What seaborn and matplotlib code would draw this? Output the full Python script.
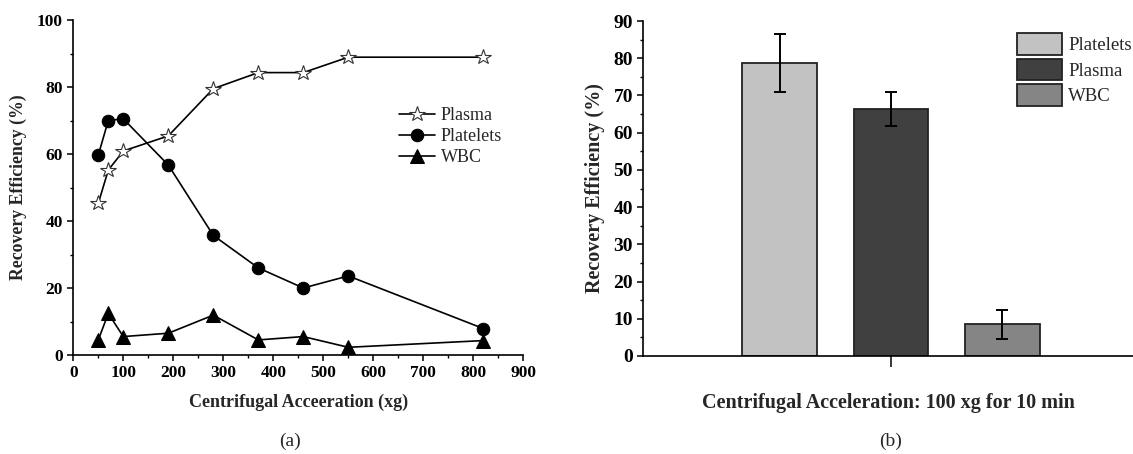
import numpy as np
import pandas as pd
import matplotlib
matplotlib.use("Agg")
import matplotlib.pyplot as plt
from matplotlib.ticker import MultipleLocator
import seaborn as sns

# ---------------- data ----------------
accel = [50, 70, 100, 190, 280, 370, 460, 550, 820]
plasma = [45.3, 55.2, 60.9, 65.4, 79.5, 84.3, 84.3, 88.9, 88.9]
platelets = [59.7, 70.0, 70.5, 56.7, 35.7, 26.0, 20.0, 23.6, 7.9]
wbc = [4.5, 12.4, 5.5, 6.5, 11.9, 4.5, 5.5, 2.3, 4.3]

bar_cells = ["Platelets", "Plasma", "WBC"]
bar_values = [78.8, 66.4, 8.5]
bar_errors = [7.8, 4.5, 3.8]
bar_colors = ["#c2c2c2", "#404040", "#858585"]
condition = ["100 xg"]

# ---------------- style ----------------
sns.set_style("ticks")
plt.rcParams["font.family"] = ["Liberation Serif", "DejaVu Serif"]
plt.rcParams["axes.linewidth"] = 1.2
plt.rcParams["xtick.major.width"] = 1.1
plt.rcParams["ytick.major.width"] = 1.1
plt.rcParams["xtick.minor.width"] = 1.0
plt.rcParams["ytick.minor.width"] = 1.0
plt.rcParams["xtick.color"] = "black"
plt.rcParams["ytick.color"] = "black"
plt.rcParams["axes.edgecolor"] = "black"

W, H = 1133, 454
fig = plt.figure(figsize=(W / 100, H / 100), dpi=100)

# ---------------- panel (a) ----------------
axa = fig.add_axes([73.3 / W, 1 - 355 / H, (523.3 - 73.3) / W, (355 - 20) / H])
df_a = pd.DataFrame({"x": accel, "Plasma": plasma, "Platelets": platelets, "WBC": wbc})

sns.lineplot(data=df_a, x="x", y="Plasma", ax=axa, color="black", lw=1.2,
             marker="*", markersize=11.5, markerfacecolor="white",
             markeredgecolor="#333333", markeredgewidth=0.8, label="Plasma")
sns.lineplot(data=df_a, x="x", y="Platelets", ax=axa, color="black", lw=1.2,
             marker="o", markersize=9, markerfacecolor="black",
             markeredgecolor="black", label="Platelets")
sns.lineplot(data=df_a, x="x", y="WBC", ax=axa, color="black", lw=1.2,
             marker="^", markersize=9.5, markerfacecolor="black",
             markeredgecolor="black", label="WBC")

axa.set_xlim(0, 900)
axa.set_ylim(0, 100)
axa.xaxis.set_major_locator(MultipleLocator(100))
axa.xaxis.set_minor_locator(MultipleLocator(50))
axa.yaxis.set_major_locator(MultipleLocator(20))
axa.yaxis.set_minor_locator(MultipleLocator(10))
axa.tick_params(which="major", length=4.5, labelsize=12.5, pad=3)
axa.tick_params(which="minor", length=2.5)
for lab in axa.get_xticklabels() + axa.get_yticklabels():
    lab.set_fontweight("bold")
axa.set_xlabel("Centrifugal Acceeration (xg)", fontsize=13, fontweight="bold", labelpad=9)
axa.set_ylabel("Recovery Efficiency (%)", fontsize=12.8, fontweight="bold", labelpad=7)
sns.despine(ax=axa)
axa.legend(loc="upper left", bbox_to_anchor=(390 / W, 1 - 98 / H),
           bbox_transform=fig.transFigure, frameon=False, fontsize=13,
           handlelength=2.0, borderpad=0, labelspacing=0.22, handletextpad=0.3)

# ---------------- panel (b) ----------------
axb = fig.add_axes([643.3 / W, 1 - 356 / H, (W - 643.3) / W, (356 - 21) / H])
df_b = pd.DataFrame({"cond": condition * len(bar_cells), "cell": bar_cells, "val": bar_values})
sns.barplot(data=df_b, x="cond", y="val", hue="cell", hue_order=bar_cells,
            palette=dict(zip(bar_cells, bar_colors)), gap=0.33,
            edgecolor="#222222", linewidth=1.3, ax=axb, errorbar=None)

# error bars at the bar centres
centers = []
for p in axb.patches[:len(bar_cells)]:
    centers.append(p.get_x() + p.get_width() / 2)
axb.errorbar(centers, bar_values, yerr=bar_errors, fmt="none", ecolor="black",
             elinewidth=1.4, capsize=4.5, capthick=1.4, zorder=5)

axb.set_xlim(-0.593, 0.579)
axb.set_ylim(0, 90)
axb.yaxis.set_major_locator(MultipleLocator(10))
axb.yaxis.set_minor_locator(MultipleLocator(5))
axb.set_xticks([0])
axb.set_xticklabels([""])
axb.tick_params(axis="x", which="major", length=8)
axb.tick_params(axis="y", which="major", length=4.5, labelsize=14, pad=3)
axb.tick_params(axis="y", which="minor", length=2.5)
for lab in axb.get_yticklabels():
    lab.set_fontweight("bold")
axb.set_xlabel("Centrifugal Acceleration: 100 xg for 10 min", fontsize=14.5,
               fontweight="bold", labelpad=15)
axb.set_ylabel("Recovery Efficiency (%)", fontsize=14.5, fontweight="bold", labelpad=6)
sns.despine(ax=axb)
axb.spines["bottom"].set_position(("data", 0))

handles, labels = axb.get_legend_handles_labels()
if axb.get_legend() is not None:
    axb.get_legend().remove()
axb.legend(handles, labels, loc="upper left", bbox_to_anchor=(1008 / W, 1 - 24 / H),
           bbox_transform=fig.transFigure, frameon=False, fontsize=13.5,
           handlelength=2.4, handleheight=1.4, borderpad=0, labelspacing=0.2,
           handletextpad=0.3)

# panel letters
fig.text(290 / W, 1 - 441 / H, "(a)", ha="center", va="center", fontsize=14)
fig.text(891 / W, 1 - 441 / H, "(b)", ha="center", va="center", fontsize=14)

fig.savefig("out.png", dpi=100)
